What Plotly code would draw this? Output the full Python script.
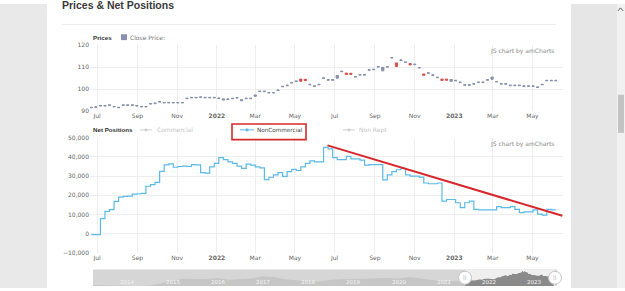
import plotly.graph_objects as go
import pandas as pd

# ---------------- data ----------------
week_start = "2021-06-22"

price_close = [91.8, 92.0, 92.6, 92.6, 92.9, 92.2, 91.8, 92.9, 92.9, 92.9,
               92.6, 92.2, 92.2, 93.5, 93.7, 94.4, 94.0, 94.0, 94.0, 94.0,
               94.0, 95.9, 96.3, 96.3, 96.5, 96.3, 96.3, 96.3, 96.0, 95.6,
               95.6, 95.9, 96.2, 95.2, 95.9, 95.9, 97.4, 99.1, 99.1, 98.5,
               98.5, 99.6, 101.3, 101.8, 103.0, 103.7, 103.6, 104.0, 102.2, 101.5,
               102.2, 105.1, 104.3, 104.3, 106.2, 108.1, 106.7, 106.7, 105.7, 106.6,
               106.6, 108.8, 109.0, 110.2, 109.9, 110.2, 114.3, 110.3, 113.2, 112.3,
               111.0, 111.3, 109.8, 106.3, 107.4, 106.5, 105.4, 104.0, 104.1, 104.4,
               104.0, 103.2, 102.0, 102.0, 102.5, 103.2, 103.2, 104.3, 105.5, 103.5,
               102.5, 102.5, 101.8, 101.8, 101.8, 101.5, 101.5, 101.5, 101.0, 102.2,
               104.0, 104.0, 104.0]

price_open = [91.6, 91.8, 92.4, 92.4, 92.7, 92.0, 91.6, 92.7, 92.7, 92.7,
              92.4, 92.0, 92.0, 93.3, 93.5, 94.2, 93.8, 93.8, 93.8, 93.8,
              93.8, 95.7, 96.1, 96.1, 96.3, 96.1, 96.1, 96.1, 95.8, 95.1,
              95.4, 95.7, 96.0, 94.8, 95.7, 95.7, 96.8, 98.9, 98.9, 98.3,
              98.3, 99.4, 101.1, 101.6, 102.8, 103.5, 104.6, 104.5, 102.0, 101.3,
              102.0, 104.9, 104.1, 104.1, 105.0, 107.9, 107.3, 107.2, 105.5, 106.4,
              106.4, 108.6, 108.8, 110.0, 108.3, 110.0, 114.1, 111.9, 113.0, 112.1,
              111.6, 111.1, 109.6, 106.9, 107.2, 106.3, 105.2, 104.6, 104.6, 103.6,
              103.8, 103.0, 101.8, 101.8, 102.3, 103.0, 103.0, 104.1, 104.5, 103.3,
              102.3, 102.3, 101.6, 101.6, 101.6, 101.3, 101.3, 101.3, 100.8, 102.0,
              103.8, 103.8, 103.8]

net_noncommercial = [-500, -500, 7800, 11600, 12500, 16800, 19000, 19400, 19600, 20600,
                     20800, 21000, 24700, 25500, 26700, 32500, 35800, 36400, 34600, 35000,
                     35200, 35000, 36000, 35800, 31800, 31500, 34800, 36600, 39600, 38600,
                     37400, 36600, 35200, 34000, 36200, 35700, 34800, 34300, 28200, 29400,
                     30600, 31800, 29800, 32300, 33500, 32900, 34800, 36600, 37900, 37400,
                     37400, 45000, 44200, 39600, 38600, 38600, 40300, 39000, 39000, 38300,
                     35700, 36000, 36000, 36000, 28000, 30600, 32300, 33300, 34000, 30600,
                     30000, 30000, 29500, 26400, 26000, 26000, 26400, 17000, 17800, 17800,
                     16100, 13600, 16100, 17000, 12700, 12400, 12400, 12400, 12400, 14100,
                     13600, 13600, 14100, 12700, 11000, 11400, 11400, 12400, 10200, 9700,
                     12700, 12400, 12400]

trend_dates = ["2022-06-20", "2023-06-16"]
trend_values = [46000, 9300]

nav_dates = ["2013-04-01", "2013-07-01", "2013-10-01", "2014-01-01", "2014-04-01",
             "2014-07-01", "2014-10-01", "2015-01-01", "2015-04-01", "2015-07-01",
             "2015-10-01", "2016-01-01", "2016-04-01", "2016-07-01", "2016-10-01",
             "2017-01-01", "2017-04-01", "2017-07-01", "2017-10-01", "2018-01-01",
             "2018-04-01", "2018-07-01", "2018-10-01", "2019-01-01", "2019-04-01",
             "2019-07-01", "2019-10-01", "2020-01-01", "2020-04-01", "2020-07-01",
             "2020-10-01", "2021-01-01", "2021-04-01"]
nav_values = [83, 82, 80, 80, 80, 81, 86, 92, 97, 96,
              96, 98, 94, 96, 97, 102, 100, 95, 93, 90,
              90, 94, 95, 96, 97, 97, 98, 97, 100, 97,
              93, 90, 92]
nav_years = ["2014", "2015", "2016", "2017", "2018", "2019", "2020", "2021", "2022", "2023"]

month_ticks = ["2021-07-01", "2021-09-01", "2021-11-01", "2022-01-01", "2022-03-01", "2022-05-01",
               "2022-07-01", "2022-09-01", "2022-11-01", "2023-01-01", "2023-03-01", "2023-05-01"]
month_labels = ["Jul", "Sep", "Nov", "<b>2022</b>", "Mar", "May",
                "Jul", "Sep", "Nov", "<b>2023</b>", "Mar", "May"]
price_ticks = [90, 100, 110, 120]
net_ticks = [-10000, 0, 10000, 20000, 30000, 40000, 50000]

view_range = ["2021-06-20", "2023-06-17"]
nav_range = ["2013-03-29", "2023-07-03"]

# ---------------- helpers ----------------
W, H = 625, 291
def X(p):
    return p / W
def Y(p):
    return 1 - p / H

FONT = "DejaVu Sans, Verdana, sans-serif"
SANS = "Liberation Sans, Arial, sans-serif"
dates = pd.date_range(week_start, periods=len(price_close), freq="7D")

UP = "#8790ad"
DOWN = "#d9534f"
BLUE = "#5bbbe6"
GRID = "#eeeeee"

fig = go.Figure()

# prices
fig.add_trace(go.Candlestick(
    x=dates, open=price_open, close=price_close,
    high=[max(o, c) for o, c in zip(price_open, price_close)],
    low=[min(o, c) for o, c in zip(price_open, price_close)],
    increasing=dict(line=dict(color=UP, width=1), fillcolor=UP),
    decreasing=dict(line=dict(color=DOWN, width=1), fillcolor=DOWN),
    whiskerwidth=0, xaxis="x", yaxis="y", showlegend=False, hoverinfo="skip"))

# net positions
fig.add_trace(go.Scatter(
    x=dates, y=net_noncommercial, mode="lines",
    line=dict(color=BLUE, width=1.2, shape="hv"),
    xaxis="x2", yaxis="y2", showlegend=False, hoverinfo="skip"))
fig.add_trace(go.Scatter(
    x=trend_dates, y=trend_values, mode="lines",
    line=dict(color="#d8262b", width=2),
    xaxis="x2", yaxis="y2", showlegend=False, hoverinfo="skip"))

# navigator
fig.add_trace(go.Scatter(
    x=list(pd.to_datetime(nav_dates)) + list(dates),
    y=nav_values + price_close, mode="lines", line=dict(width=0),
    fill="tozeroy", fillcolor="#c6c6c6",
    xaxis="x3", yaxis="y3", showlegend=False, hoverinfo="skip"))
fig.add_trace(go.Scatter(
    x=dates, y=price_close, mode="lines", line=dict(width=0),
    fill="tozeroy", fillcolor="#8a8a8a",
    xaxis="x3", yaxis="y3", showlegend=False, hoverinfo="skip"))
fig.add_trace(go.Scatter(
    x=view_range, y=[98.5, 98.5], mode="markers",
    marker=dict(symbol="circle", size=13, color="white", line=dict(color="#c4c4c4", width=1)),
    xaxis="x3", yaxis="y3", cliponaxis=False, showlegend=False, hoverinfo="skip"))

axis_font = dict(family=FONT, size=6, color="#666666")
common_x = dict(range=view_range, tickvals=month_ticks, ticktext=month_labels,
                showgrid=True, gridcolor=GRID, gridwidth=1, zeroline=False,
                showline=False, ticks="", tickfont=axis_font, fixedrange=True)

shapes = []
def rect(x0, y0, x1, y1, color, layer="below", line=None):
    shapes.append(dict(type="rect", xref="paper", yref="paper",
                       x0=X(x0), x1=X(x1), y0=Y(y1), y1=Y(y0),
                       fillcolor=color, line=line or dict(width=0), layer=layer))

# page backgrounds
rect(0, 0, 47, H, "#e9e9e9")
rect(571, 0, 617, H, "#e6e6e6")
rect(617, 0, 625, H, "#f1f1f1")
rect(618, 93, 624, 132, "#c3c3c3")
shapes.append(dict(type="path", xref="paper", yref="paper",
                   path=f"M {X(618)} {Y(7)} L {X(620.5)} {Y(4)} L {X(623)} {Y(7)}",
                   line=dict(color="#555", width=1)))
# title rule
shapes.append(dict(type="line", xref="paper", yref="paper", x0=X(62), x1=X(556),
                   y0=Y(21), y1=Y(21), line=dict(color="#eeeeee", width=1), layer="below"))
# navigator background
rect(93, 272, 557, 289, "#d6d6d6")
shapes.append(dict(type="rect", xref="x3", yref="paper", x0=view_range[0], x1=view_range[1],
                   y0=Y(289), y1=Y(272), fillcolor="#efefef", line=dict(width=0), layer="below"))
# legend swatch
rect(121, 31, 127, 37, "#8891b4", layer="above")
# legend lines
for (x0, x1, c) in [(140, 152, "#cfcfcf"), (240, 254, BLUE), (343, 355, "#cfcfcf")]:
    shapes.append(dict(type="line", xref="paper", yref="paper", x0=X(x0), x1=X(x1),
                       y0=Y(129), y1=Y(129), line=dict(color=c, width=1)))
    cx = (x0 + x1) / 2
    shapes.append(dict(type="circle", xref="paper", yref="paper", x0=X(cx - 1.3), x1=X(cx + 1.3),
                       y0=Y(130.3), y1=Y(127.7), fillcolor=c, line=dict(color=c, width=0.5)))
# red highlight box
shapes.append(dict(type="rect", xref="paper", yref="paper", x0=X(232), x1=X(306),
                   y0=Y(139), y1=Y(123), line=dict(color="#d42a2a", width=1.6),
                   fillcolor="rgba(0,0,0,0)", layer="above"))

ann = []
def text(x, y, s, size=6, color="#333", bold=False, anchor="left", family=FONT):
    ann.append(dict(xref="paper", yref="paper", x=X(x), y=Y(y), text=f"<b>{s}</b>" if bold else s,
                    showarrow=False, xanchor=anchor, yanchor="middle",
                    font=dict(family=family, size=size, color=color), borderpad=0))

text(61, 1.5, "Prices &amp; Net Positions", size=10.5, color="#3a3a3a", bold=True, family=SANS)
text(92, 34, "Prices", size=6.2, color="#333", bold=True, family=SANS)
text(129, 34, "Close Price:", size=6, color="#777")
text(92, 129, "Net Positions", size=6.2, color="#333", bold=True, family=SANS)
text(156, 129, "Commercial", size=6, color="#c4c4c4")
text(256, 129, "NonCommercial", size=5.7, color="#444")
text(358, 129, "Non Rept", size=6, color="#c4c4c4")
text(555, 48, "JS chart by amCharts", size=6, color="#888", anchor="right")
text(555, 143, "JS chart by amCharts", size=6, color="#888", anchor="right")

for yr in nav_years:
    ann.append(dict(xref="x3", yref="paper", x=f"{yr}-01-01", y=Y(284.5), text=yr,
                    showarrow=False, xanchor="center", yanchor="middle",
                    font=dict(family=FONT, size=5.5, color="#f4f4f4")))
for d in view_range:
    ann.append(dict(xref="x3", yref="paper", x=d, y=Y(280.5), text="||",
                    showarrow=False, xanchor="center", yanchor="middle",
                    font=dict(family=FONT, size=5, color="#9a9a9a")))

fig.update_layout(
    width=W, height=H, margin=dict(l=0, r=0, t=0, b=0),
    paper_bgcolor="white", plot_bgcolor="rgba(0,0,0,0)",
    showlegend=False, font=dict(family=FONT, size=6, color="#666"),
    xaxis=dict(domain=[X(90), X(563)], anchor="y", rangeslider=dict(visible=False), **common_x),
    yaxis=dict(domain=[Y(110), Y(42)], anchor="x", range=[90, 120], tickvals=price_ticks,
               showgrid=True, gridcolor=GRID, zeroline=False, showline=False, ticks="",
               tickfont=axis_font, fixedrange=True),
    xaxis2=dict(domain=[X(90), X(563)], anchor="y2", **common_x),
    yaxis2=dict(domain=[Y(255), Y(137)], anchor="x2", range=[-10000, 50000], tickvals=net_ticks,
                tickformat=",d", showgrid=True, gridcolor=GRID, zeroline=False, showline=False,
                ticks="", tickfont=axis_font, fixedrange=True),
    xaxis3=dict(domain=[X(93), X(557)], anchor="y3", range=nav_range, visible=False, fixedrange=True),
    yaxis3=dict(domain=[Y(289), Y(272)], anchor="x3", range=[80, 117], visible=False, fixedrange=True),
    shapes=shapes, annotations=ann,
)

fig.write_html("out.html")
